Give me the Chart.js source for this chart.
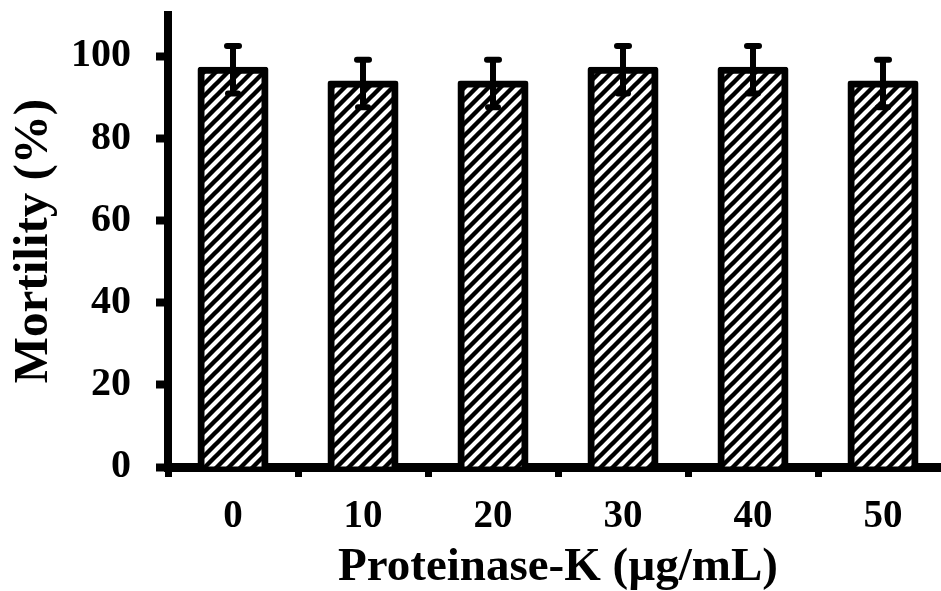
<!DOCTYPE html>
<html>
<head>
<meta charset="utf-8">
<script src="https://cdn.jsdelivr.net/npm/chart.js@4.4.0/dist/chart.umd.min.js"></script>
<style>
  html, body { margin: 0; padding: 0; background: #fff; overflow: hidden; }
  #wrap { width: 950px; height: 591px; }
</style>
</head>
<body>
<div id="wrap"><canvas id="myBarChart"></canvas></div>
<script>
var concentrations = ['0', '10', '20', '30', '40', '50'];
var mortality = [96.67, 93.33, 93.33, 96.67, 96.67, 93.33];
var mortalityErr = [5.77, 5.77, 5.77, 5.77, 5.77, 5.77];
var yTicks = [0, 20, 40, 60, 80, 100];

// diagonal hatch for the bars
function hatch() {
    var s = 12;
    var c = document.createElement('canvas');
    c.width = s; c.height = s;
    var g = c.getContext('2d');
    g.fillStyle = '#fff';
    g.fillRect(0, 0, s, s);
    g.strokeStyle = '#000';
    g.lineWidth = 4.4;
    g.beginPath();
    g.moveTo(0, s); g.lineTo(s, 0);
    g.moveTo(-3, 3); g.lineTo(3, -3);
    g.moveTo(s - 3, s + 3); g.lineTo(s + 3, s - 3);
    g.stroke();
    return g.createPattern(c, 'repeat');
}

var errorBars = {
    id: 'errorBars',
    afterDatasetsDraw: function(chart) {
        var ctx = chart.ctx;
        var y = chart.scales.y;
        var meta = chart.getDatasetMeta(0);
        ctx.save();
        ctx.strokeStyle = '#000';
        ctx.lineWidth = 6;
        ctx.lineCap = 'round';
        meta.data.forEach(function(bar, i) {
            var hi = y.getPixelForValue(mortality[i] + mortalityErr[i]);
            var lo = y.getPixelForValue(mortality[i] - mortalityErr[i]);
            ctx.beginPath();
            ctx.moveTo(bar.x, hi); ctx.lineTo(bar.x, lo);
            ctx.moveTo(bar.x - 6, hi); ctx.lineTo(bar.x + 6, hi);
            ctx.moveTo(bar.x - 5, lo); ctx.lineTo(bar.x + 5, lo);
            ctx.stroke();
        });
        ctx.restore();
    }
};

var ctx = document.getElementById('myBarChart');
var font = "'Liberation Serif', 'Times New Roman', serif";
var myBarChart = new Chart(ctx, {
    type: 'bar',
    data: {
        labels: concentrations,
        datasets: [{
            data: mortality,
            backgroundColor: hatch(),
            borderColor: '#000',
            borderWidth: 7,
            borderRadius: 3,
            inflateAmount: 3,
            barPercentage: 0.5,
            categoryPercentage: 1
        }]
    },
    plugins: [errorBars],
    options: {
        responsive: true,
        maintainAspectRatio: false,
        animation: false,
        layout: { padding: { top: 15, right: 2, left: 0, bottom: 0 } },
        plugins: { legend: { display: false }, tooltip: { enabled: false } },
        scales: {
            x: {
                z: 1,
                afterFit: function(s) { s.height = 124; s.paddingLeft = 0; s.paddingRight = 0; },
                border: { display: true, color: '#000', width: 9 },
                grid: { display: true, drawOnChartArea: false, drawTicks: true, tickLength: 10, tickWidth: 7, tickColor: '#000' },
                ticks: { color: '#000', padding: 17, font: { family: font, size: 39, weight: 'bold' } },
                title: {
                    display: true,
                    text: 'Proteinase-K (µg/mL)',
                    color: '#000',
                    padding: { top: 0, bottom: 0 },
                    font: { family: font, size: 47, weight: 'bold', lineHeight: 1 }
                }
            },
            y: {
                z: 1,
                min: 0,
                max: 110,
                afterFit: function(s) { s.width = 168; s.paddingTop = 0; s.paddingBottom = 0; },
                afterBuildTicks: function(s) {
                    s.ticks = yTicks.map(function(v) { return { value: v }; });
                },
                border: { display: true, color: '#000', width: 8 },
                grid: { display: true, drawOnChartArea: false, drawTicks: true, tickLength: 12, tickWidth: 8, tickColor: '#000' },
                ticks: { color: '#000', padding: 25, font: { family: font, size: 40, weight: 'bold' } },
                title: {
                    display: true,
                    text: 'Mortility (%)',
                    color: '#000',
                    padding: { top: 10, bottom: 0 },
                    font: { family: font, size: 49, weight: 'bold', lineHeight: 1 }
                }
            }
        }
    }
});
</script>
</body>
</html>
